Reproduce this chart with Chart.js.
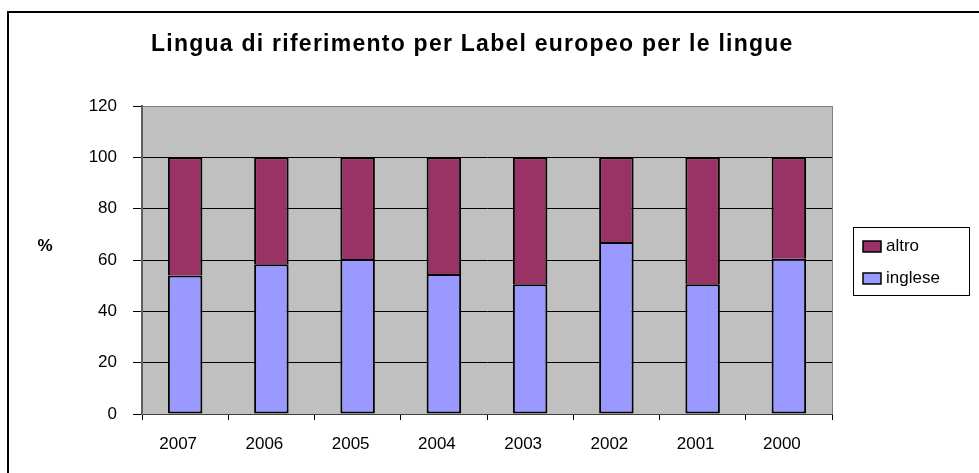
<!DOCTYPE html>
<html>
<head>
<meta charset="utf-8">
<script src="https://cdn.jsdelivr.net/npm/chart.js@4"></script>
<style>
  body { margin: 0; background: #fff; }
  canvas { display: block; }
</style>
</head>
<body>
<canvas id="graficoLingue" width="979" height="473"></canvas>
<script>
const anni = ["2007", "2006", "2005", "2004", "2003", "2002", "2001", "2000"];
const inglese = [54, 58.3, 60.4, 54.5, 50.6, 67, 50.6, 60.5];
const altro = [46, 41.7, 39.6, 45.5, 49.4, 33, 49.4, 39.5];
const tickY = [0, 20, 40, 60, 80, 100, 120];

const titolo = "Lingua di riferimento per Label europeo per le lingue";
const font = "Arial, 'Liberation Sans', sans-serif";

// sfondo grigio dell'area, cornice esterna, titolo, "%" e legenda
const decorazioni = {
    id: "decorazioni",
    beforeDraw(chart) {
        const c = chart.ctx;
        const a = chart.chartArea;
        c.save();
        c.fillStyle = "#fff";
        c.fillRect(0, 0, chart.width, chart.height);
        c.fillStyle = "#c0c0c0";
        c.fillRect(a.left, a.top, a.right - a.left, a.bottom - a.top);
        c.restore();
    },
    afterDraw(chart) {
        const c = chart.ctx;
        const a = chart.chartArea;
        c.save();

        // cornice
        c.strokeStyle = "#000";
        c.lineWidth = 2;
        c.beginPath();
        c.moveTo(8, chart.height + 5);
        c.lineTo(8, 12);
        c.lineTo(chart.width + 5, 12);
        c.stroke();

        // bordo destro dell'area
        c.strokeStyle = "#808080";
        c.lineWidth = 1;
        c.beginPath();
        c.moveTo(a.right + 0.5, a.top);
        c.lineTo(a.right + 0.5, a.bottom);
        c.stroke();

        // titolo, un po' spaziato
        c.fillStyle = "#000";
        c.textAlign = "left";
        c.textBaseline = "alphabetic";
        c.font = "bold 23px " + font;
        c.letterSpacing = "1.25px";
        c.fillText(titolo, 151, 51);
        c.letterSpacing = "0px";

        c.textAlign = "center";
        c.textBaseline = "middle";
        c.font = "bold 17px " + font;
        c.fillText("%", 45, 246);

        // legenda
        c.strokeStyle = "#000";
        c.lineWidth = 1;
        c.strokeRect(853.5, 227.5, 116, 68);
        c.font = "17px " + font;
        c.textAlign = "left";
        const voci = chart.data.datasets.slice().reverse();
        voci.forEach(function(ds, i) {
            const y = 246 + i * 32;
            c.fillStyle = ds.backgroundColor;
            c.fillRect(863, y - 5, 18, 11);
            c.strokeStyle = "#000";
            c.lineWidth = 1.5;
            c.strokeRect(863, y - 5, 18, 11);
            c.fillStyle = "#000";
            c.fillText(ds.label, 886, y);
        });
        c.restore();
    }
};

new Chart(document.getElementById("graficoLingue"), {
    type: "bar",
    data: {
        labels: anni,
        datasets: [
            {
                label: "inglese",
                data: inglese,
                backgroundColor: "#9999ff",
                borderColor: "#000",
                borderWidth: 2,
                borderSkipped: false
            },
            {
                label: "altro",
                data: altro,
                backgroundColor: "#993366",
                borderColor: "#000",
                borderWidth: 2,
                borderSkipped: "bottom"
            }
        ]
    },
    options: {
        responsive: false,
        animation: false,
        events: [],
        layout: {
            padding: { top: 106, right: 147, left: 0, bottom: 0 }
        },
        datasets: {
            bar: { categoryPercentage: 1, barPercentage: 0.4 }
        },
        plugins: {
            legend: { display: false },
            title: { display: false },
            tooltip: { enabled: false }
        },
        scales: {
            x: {
                stacked: true,
                offset: true,
                afterFit(scale) { scale.height = 59; },
                grid: {
                    offset: true,
                    drawOnChartArea: false,
                    tickLength: 6,
                    color: "#000"
                },
                border: { color: "#404040", width: 1 },
                ticks: {
                    color: "#000",
                    padding: 14,
                    labelOffset: -7,
                    maxRotation: 0,
                    font: { family: font, size: 17 }
                }
            },
            y: {
                stacked: true,
                min: 0,
                max: 120,
                afterFit(scale) { scale.width = 142; },
                afterBuildTicks(scale) {
                    scale.ticks = tickY.map(function(v) { return { value: v }; });
                },
                grid: {
                    color: function(ctx) {
                        return ctx.tick && ctx.tick.value === 120 ? "#808080" : "#000";
                    },
                    tickColor: "#000",
                    tickLength: 9,
                    lineWidth: 1
                },
                border: { color: "#606060", width: 2 },
                ticks: {
                    color: "#000",
                    padding: 16,
                    font: { family: font, size: 17 }
                }
            }
        }
    },
    plugins: [decorazioni]
});
</script>
</body>
</html>
